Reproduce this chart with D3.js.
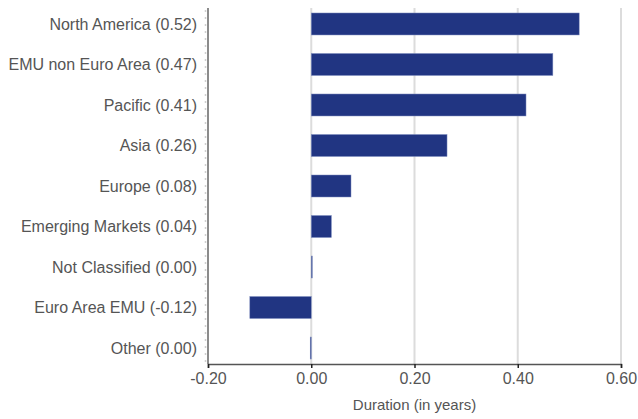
<!DOCTYPE html>
<html>
<head>
<meta charset="utf-8">
<script src="https://cdn.jsdelivr.net/npm/d3@7"></script>
<style>
  body { margin: 0; background: #fff; }
  #viz { width: 638px; height: 419px; }
  text { font-family: "Liberation Sans", Arial, sans-serif; }
</style>
</head>
<body>
<div id="viz"></div>
<script>
// Chart data
const categories = [
  'North America (0.52)',
  'EMU non Euro Area (0.47)',
  'Pacific (0.41)',
  'Asia (0.26)',
  'Europe (0.08)',
  'Emerging Markets (0.04)',
  'Not Classified (0.00)',
  'Euro Area EMU (-0.12)',
  'Other (0.00)'
];
const values = [0.519, 0.468, 0.416, 0.263, 0.077, 0.039, 0.002, -0.119, -0.002];
const tickValues = [-0.2, 0, 0.2, 0.4, 0.6];
const axisTitle = 'Duration (in years)';

(function () {
  const container = document.getElementById('viz');
  const width = 638;
  const height = 419;
  const left = 208;
  const right = 621;
  const top = 8;
  const bottom = 364;

  const svg = d3
    .select(container)
    .append('svg')
    .attr('width', width)
    .attr('height', height);

  const x = d3.scaleLinear().domain([-0.2, 0.6]).range([left, right]);

  const y = d3
    .scaleBand()
    .domain(categories)
    .range([3.75, 368.25])
    .paddingInner(0.457)
    .paddingOuter(0.228);

  // Gridlines
  svg
    .append('g')
    .selectAll('line')
    .data(tickValues.slice(1))
    .enter()
    .append('line')
    .attr('x1', (d) => x(d))
    .attr('x2', (d) => x(d))
    .attr('y1', top)
    .attr('y2', bottom)
    .attr('stroke', '#dcdcdc')
    .attr('stroke-width', 2);

  // Bars
  const data = categories.map((c, i) => ({ cat: c, value: values[i] }));
  svg
    .selectAll('.bar')
    .data(data)
    .enter()
    .append('rect')
    .attr('class', 'bar')
    .attr('x', (d) => Math.min(x(0), x(d.value)))
    .attr('y', (d) => y(d.cat))
    .attr('width', (d) => Math.max(1, Math.abs(x(d.value) - x(0))))
    .attr('height', y.bandwidth())
    .attr('fill', '#213582')
    .attr('stroke', '#7f8dbf')
    .attr('stroke-width', 0.5);

  // Dotted minor marks left of the category axis
  svg
    .append('line')
    .attr('x1', left - 2.5)
    .attr('x2', left - 2.5)
    .attr('y1', top + 2)
    .attr('y2', bottom)
    .attr('stroke', '#cfcfcf')
    .attr('stroke-width', 1.5)
    .attr('stroke-dasharray', '2,5');

  // Category axis line
  svg
    .append('line')
    .attr('x1', left)
    .attr('x2', left)
    .attr('y1', top)
    .attr('y2', bottom)
    .attr('stroke', '#666')
    .attr('stroke-width', 1.5);

  // Category labels
  svg
    .append('g')
    .selectAll('text')
    .data(categories)
    .enter()
    .append('text')
    .attr('x', 197)
    .attr('y', (d) => y(d) + y.bandwidth() / 2)
    .attr('dy', '0.35em')
    .attr('text-anchor', 'end')
    .attr('font-size', '16px')
    .attr('fill', '#555')
    .text((d) => d);

  // Value axis
  const fmt = d3.format('.2f');
  const xAxis = svg
    .append('g')
    .attr('transform', `translate(0,${bottom})`)
    .call(
      d3
        .axisBottom(x)
        .tickValues(tickValues)
        .tickFormat((d) => fmt(d).replace('\u2212', '-'))
        .tickSize(4)
        .tickPadding(5)
    );
  xAxis.select('.domain').attr('stroke', '#555').attr('stroke-width', 1.5);
  xAxis.selectAll('.tick line').attr('stroke', '#222').attr('stroke-width', 1.5);
  xAxis
    .selectAll('.tick text')
    .attr('font-size', '16px')
    .attr('fill', '#555')
    .attr('font-family', '"Liberation Sans", Arial, sans-serif');

  svg
    .append('text')
    .attr('x', x(0.2))
    .attr('y', 410)
    .attr('text-anchor', 'middle')
    .attr('font-size', '15px')
    .attr('fill', '#555')
    .text(axisTitle);
})();
</script>
</body>
</html>
